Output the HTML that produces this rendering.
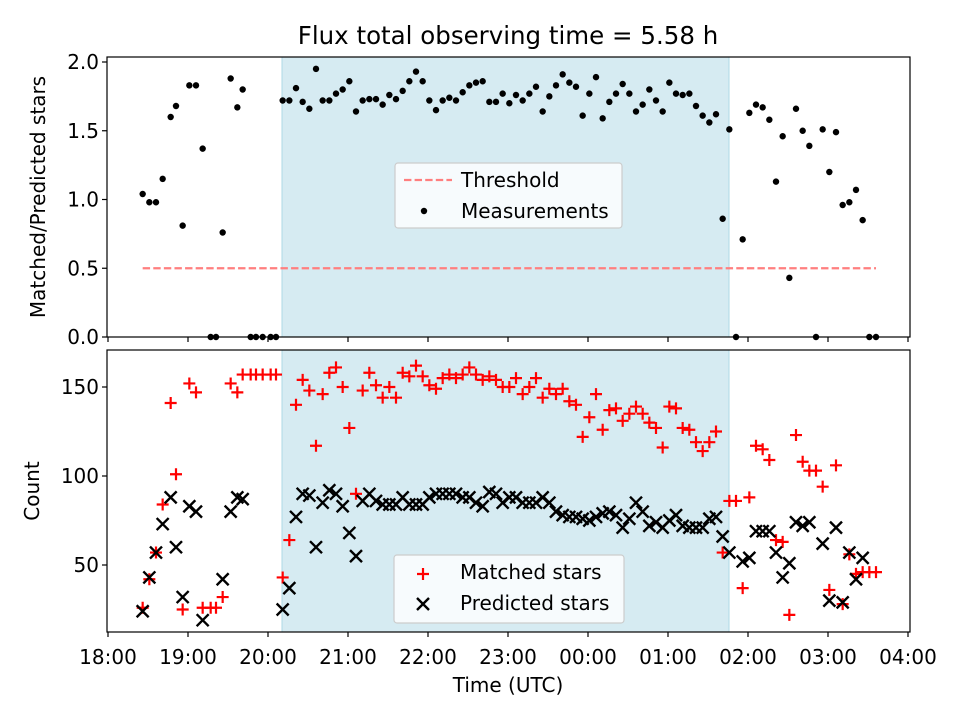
<!DOCTYPE html>
<html><head><meta charset="utf-8"><style>
body{margin:0;background:#fff}
svg text{font-family:"DejaVu Sans","Liberation Sans",sans-serif;fill:#000}
</style></head><body>
<svg id="chart" width="960" height="720" viewBox="0 0 960 720" xmlns="http://www.w3.org/2000/svg">
<text x="508" y="44" font-size="24.5" text-anchor="middle">Flux total observing time = 5.58 h</text>
<g id="topg"></g><g id="botg"></g>
<text transform="translate(45,197) rotate(-90)" font-size="20" text-anchor="middle">Matched/Predicted stars</text>
<text transform="translate(39,491) rotate(-90)" font-size="20" text-anchor="middle">Count</text>
<text x="508" y="692" font-size="20" text-anchor="middle">Time (UTC)</text>
</svg>
<script>
// minutes after 18:00 UTC
const times=[26,31,36,41,47,51,56,61,66,71,77,81,86,92,97,101,107,111,116,122,126,131,136,141,146,151,156,161,166,171,176,181,186,191,196,201,206,211,216,221,226,231,236,241,246,251,256,261,266,271,276,281,286,291,296,301,306,311,316,321,326,331,336,341,346,351,356,361,366,371,376,381,386,391,396,401,406,411,416,421,426,431,436,441,446,451,456,461,466,471,476,481,486,491,496,501,506,511,516,521,526,531,536,541,546,551,556,561,566,571,576];
const ratio=[1.04,0.98,0.98,1.15,1.60,1.68,0.81,1.83,1.83,1.37,0,0,0.76,1.88,1.67,1.80,0,0,0,0,0,1.72,1.72,1.81,1.71,1.66,1.95,1.72,1.72,1.77,1.80,1.86,1.64,1.72,1.73,1.73,1.69,1.76,1.73,1.79,1.86,1.93,1.86,1.72,1.65,1.72,1.74,1.72,1.78,1.83,1.85,1.86,1.71,1.71,1.77,1.70,1.76,1.72,1.77,1.82,1.64,1.75,1.83,1.91,1.85,1.82,1.61,1.77,1.89,1.59,1.71,1.77,1.84,1.77,1.64,1.69,1.80,1.72,1.64,1.85,1.77,1.76,1.77,1.68,1.61,1.56,1.62,0.86,1.51,0,0.71,1.63,1.69,1.67,1.58,1.13,1.46,0.43,1.66,1.50,1.39,0,1.51,1.20,1.49,0.96,0.98,1.07,0.85,0,0];
const matched=[26,42,57,84,141,101,25,152,147,26,26,26,32,152,147,157,157,157,157,157,157,43,64,140,154,148,117,146,158,161,150,127,90,148,158,151,144,150,144,158,156,162,156,151,149,155,157,155,157,161,157,154,156,154,150,150,155,146,150,155,144,149,146,149,142,140,122,133,146,126,137,138,131,135,139,135,130,127,116,139,138,127,126,119,114,119,125,57,86,86,37,88,117,115,109,64,63,22,123,108,103,103,94,36,106,28,56,45,46,46,46];
const predicted=[24,43,57,73,88,60,32,83,80,19,null,null,42,80,88,87,null,null,null,null,null,25,37,77,90,89,60,85,92,90,83,68,55,86,90,86,84,84,84,88,84,84,84,88,90,90,90,90,88,88,85,83,91,90,85,88,88,85,85,85,88,85,80,78,77,77,76,75,77,79,80,78,71,76,85,80,72,74,71,75,78,72,71,71,71,76,77,66,57,null,52,54,69,69,69,57,43,51,74,72,74,null,62,30,71,29,57,42,54,null,null];
const threshold=0.5;
const xTickLabels=["18:00","19:00","20:00","21:00","22:00","23:00","00:00","01:00","02:00","03:00","04:00"];
const topYTicks=[0.0,0.5,1.0,1.5,2.0];
const botYTicks=[50,100,150];
const obsWindow=[130.5,465.75];

const NS="http://www.w3.org/2000/svg";
const L=107,R=910,FS=20;
const X=m=>108+m*80/60;
const YT=v=>337-v*137.5;
const YB=v=>565-(v-50)*1.78;
function mk(p,tag,a){const e=document.createElementNS(NS,tag);for(const k in a)e.setAttribute(k,a[k]);p.appendChild(e);return e;}
const topG=document.getElementById('topg'),botG=document.getElementById('botg');

function panel(g,y0,y1,name){
  const s=mk(g,'rect',{x:X(obsWindow[0]),y:y0,width:X(obsWindow[1])-X(obsWindow[0]),height:y1-y0,fill:'#add8e6','fill-opacity':0.5,stroke:'#add8e6'});
  
  
}
panel(topG,57,337,'top');
panel(botG,350,632,'bottom');

const th=mk(topG,'line',{x1:X(times[0]),x2:X(times[times.length-1]),y1:YT(threshold),y2:YT(threshold),stroke:'#ff7f7f','stroke-width':2.2,'stroke-dasharray':'7.4,3.2'});


times.forEach((t,i)=>{
  const c=mk(topG,'circle',{cx:X(t),cy:YT(ratio[i]),r:3.2,fill:'#000'});
  
  
});
function plus(g,x,y){return mk(g,'path',{d:`M${x-6},${y}H${x+6}M${x},${y-6}V${y+6}`,stroke:'#f00','stroke-width':2.2,fill:'none'});}
function cross(g,x,y){return mk(g,'path',{d:`M${x-6},${y-6}L${x+6},${y+6}M${x-6},${y+6}L${x+6},${y-6}`,stroke:'#000','stroke-width':2.4,fill:'none'});}
times.forEach((t,i)=>{
  if(matched[i]!=null){const p=plus(botG,X(t),YB(matched[i]));
  
  }
});
times.forEach((t,i)=>{
  if(predicted[i]!=null){const p=cross(botG,X(t),YB(predicted[i]));
  
  }
});

function frame(g,y0,y1,name){
  const r=mk(g,'rect',{x:L,y:y0,width:R-L,height:y1-y0,fill:'none',stroke:'#000','stroke-width':1.2});
  
  
  xTickLabels.forEach((lb,i)=>{
    const x=X(i*60);
    mk(g,'line',{x1:x,x2:x,y1:y1,y2:y1+5,stroke:'#000','stroke-width':1.2});
  });
}
frame(topG,57,337,'top');frame(botG,350,632,'bottom');
xTickLabels.forEach((lb,i)=>{
  const t=mk(botG,'text',{x:X(i*60),y:664,'font-size':FS,'text-anchor':'middle'});t.textContent=lb;
  
  
});
topYTicks.forEach(v=>{
  const y=YT(v);mk(topG,'line',{x1:L-5,x2:L,y1:y,y2:y,stroke:'#000','stroke-width':1.2});
  const t=mk(topG,'text',{x:99,y:y+7,'font-size':FS,'text-anchor':'end'});t.textContent=v.toFixed(1);
  
  
});
botYTicks.forEach(v=>{
  const y=YB(v);mk(botG,'line',{x1:L-5,x2:L,y1:y,y2:y,stroke:'#000','stroke-width':1.2});
  const t=mk(botG,'text',{x:99,y:y+7,'font-size':FS,'text-anchor':'end'});t.textContent=v;
  
  
});

const lg1=mk(topG,'g',{});


mk(lg1,'rect',{x:395,y:163,width:227,height:65,rx:3,fill:'#fff','fill-opacity':0.8,stroke:'#ccc','stroke-width':1.2});
mk(lg1,'line',{x1:404,x2:452,y1:180,y2:180,stroke:'#ff7f7f','stroke-width':2.2,'stroke-dasharray':'7.4,3.2'});
let tx=mk(lg1,'text',{x:461,y:187,'font-size':FS});tx.textContent='Threshold';
mk(lg1,'circle',{cx:424,cy:211,r:3.2,fill:'#000'});
tx=mk(lg1,'text',{x:461,y:218,'font-size':FS});tx.textContent='Measurements';
const lg2=mk(botG,'g',{});


mk(lg2,'rect',{x:394,y:555,width:230,height:68,rx:3,fill:'#fff','fill-opacity':0.8,stroke:'#ccc','stroke-width':1.2});
plus(lg2,423,574);
tx=mk(lg2,'text',{x:460,y:579,'font-size':FS});tx.textContent='Matched stars';
cross(lg2,423,604);
tx=mk(lg2,'text',{x:460,y:610,'font-size':FS});tx.textContent='Predicted stars';
</script>
</body></html>
